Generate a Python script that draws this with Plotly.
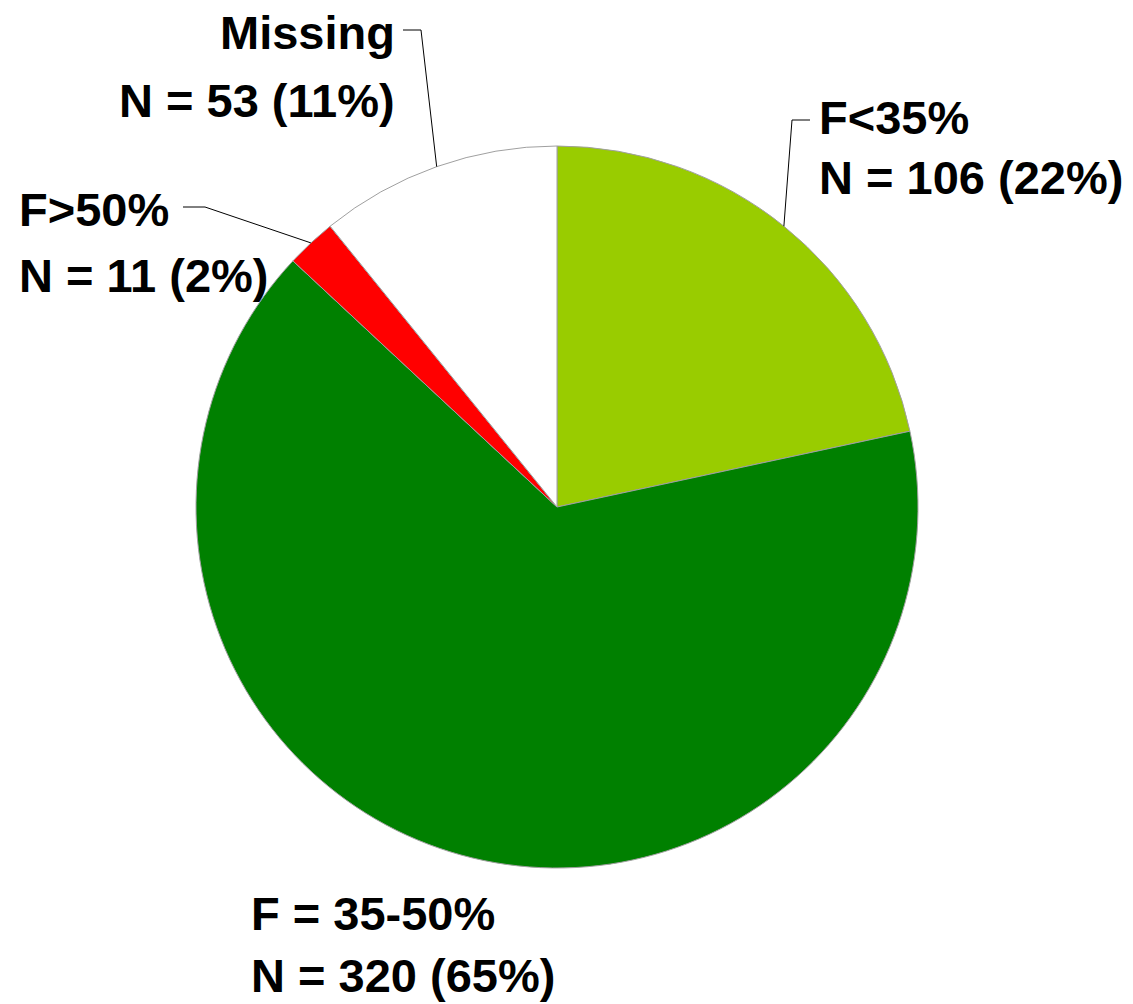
import math
import plotly.graph_objects as go

# page body has an 8px margin; the figure fills the window from that offset
OFF = 8
W, H = 1133 - OFF, 1004 - OFF

categories = ["F<35%", "F = 35-50%", "F>50%", "Missing"]
counts = [106, 320, 11, 53]
percents = [22, 65, 2, 11]
colors = ["#99CC00", "#008000", "#FF0000", "#FFFFFF"]

# pie geometry (window pixels)
CX, CY, R = 557, 507, 361

def px2paper(x, y):
    return (x - OFF) / W, 1 - (y - OFF) / H

x0, y0 = px2paper(CX - R, CY + R)
x1, y1 = px2paper(CX + R, CY - R)

fig = go.Figure(go.Pie(
    labels=categories, values=counts, sort=False, direction="clockwise",
    rotation=0, textinfo="none", hoverinfo="label+value+percent",
    marker=dict(colors=colors, line=dict(color="#A0A0A0", width=1)),
    domain=dict(x=[x0, x1], y=[y0, y1]),
    showlegend=False,
))

# label layout: (line1 cap-center y, line2 cap-center y, x, anchor)
label_pos = {
    "F<35%": (117, 177, 818, "left"),
    "F = 35-50%": (913, 975, 250, "left"),
    "F>50%": (209, 275, 18, "left"),
    "Missing": (33, 100, 396, "right"),
}
# leader line elbows (pixels): start, elbow
leaders = {
    "F<35%": [(810, 120), (792, 120)],
    "F>50%": [(183, 207), (205, 207)],
    "Missing": [(403, 30), (421, 30)],
}

total = sum(counts)
cum = 0
font = dict(family="Liberation Sans, Arial, sans-serif", size=47, color="black")
for cat, n, p in zip(categories, counts, percents):
    mid = (cum + n / 2) / total * 2 * math.pi
    cum += n
    ex, ey = CX + R * math.sin(mid), CY - R * math.cos(mid)
    ya, yb, x, anc = label_pos[cat]
    for txt, yy in ((cat, ya), (f"N = {n} ({p}%)", yb)):
        ax, ay = px2paper(x, yy)
        fig.add_annotation(x=ax, y=ay, xref="paper", yref="paper", text=f"<b>{txt}</b>",
                           showarrow=False, xanchor=anc, yanchor="middle", font=font,
                           borderpad=0)
    if cat in leaders:
        pts = leaders[cat] + [(ex, ey)]
        path = "M " + " L ".join("{},{}".format(*px2paper(a, b)) for a, b in pts)
        fig.add_shape(type="path", path=path, xref="paper", yref="paper",
                      line=dict(color="black", width=1))

fig.update_layout(width=W, height=H, margin=dict(l=0, r=0, t=0, b=0),
                  paper_bgcolor="white", plot_bgcolor="white")
fig.write_html("out.html")
